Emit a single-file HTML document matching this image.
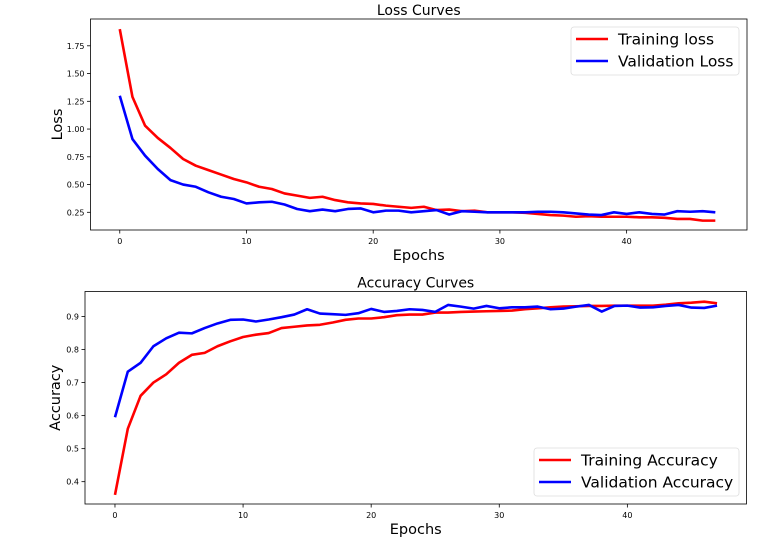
<!DOCTYPE html>
<html><head><meta charset="utf-8"><style>
html,body{margin:0;padding:0;background:#fff;}
svg{display:block;font-family:"DejaVu Sans","Liberation Sans",sans-serif;}
</style></head><body>
<svg id="chart" width="772" height="540" viewBox="0 0 772 540" xmlns="http://www.w3.org/2000/svg"></svg>
<script>
const epochs = Array.from({length:48},(_,i)=>i);
const trainLoss = [1.90,1.29,1.03,0.92,0.83,0.73,0.67,0.63,0.59,0.55,0.52,0.48,0.46,0.42,0.40,0.38,0.39,0.36,0.34,0.33,0.325,0.31,0.30,0.29,0.30,0.27,0.275,0.26,0.265,0.25,0.25,0.25,0.245,0.235,0.225,0.22,0.21,0.215,0.21,0.21,0.21,0.205,0.205,0.2,0.19,0.19,0.175,0.175];
const valLoss = [1.30,0.91,0.76,0.64,0.54,0.50,0.48,0.43,0.39,0.37,0.33,0.34,0.345,0.32,0.28,0.26,0.275,0.26,0.28,0.285,0.25,0.265,0.265,0.25,0.26,0.27,0.23,0.26,0.255,0.25,0.25,0.25,0.25,0.255,0.255,0.25,0.24,0.23,0.225,0.25,0.235,0.25,0.235,0.23,0.26,0.255,0.26,0.25];
const trainAcc = [0.36,0.56,0.66,0.70,0.725,0.76,0.784,0.79,0.81,0.825,0.838,0.845,0.85,0.865,0.869,0.873,0.875,0.882,0.89,0.894,0.894,0.898,0.904,0.906,0.906,0.912,0.912,0.914,0.915,0.916,0.917,0.918,0.922,0.925,0.928,0.93,0.931,0.932,0.932,0.933,0.933,0.933,0.933,0.936,0.94,0.942,0.945,0.94];
const valAcc = [0.595,0.733,0.76,0.81,0.834,0.851,0.849,0.865,0.879,0.89,0.891,0.885,0.891,0.898,0.906,0.922,0.909,0.907,0.905,0.91,0.923,0.914,0.917,0.922,0.92,0.914,0.935,0.93,0.924,0.932,0.925,0.928,0.928,0.93,0.922,0.924,0.93,0.935,0.915,0.932,0.933,0.927,0.928,0.932,0.935,0.927,0.926,0.933];
const xTicks = [0,10,20,30,40];
const lossTicks = [0.25,0.50,0.75,1.00,1.25,1.50,1.75];
const accTicks = [0.4,0.5,0.6,0.7,0.8,0.9];

const NS="http://www.w3.org/2000/svg";
const svg=document.getElementById('chart');
function mk(tag,attrs,parent){const e=document.createElementNS(NS,tag);for(const k in attrs)e.setAttribute(k,attrs[k]);(parent||svg).appendChild(e);return e;}

function panel(cfg){
  const g=mk('g',{});
  
  
  const {L,R,T,B,xmin,xmax,ymin,ymax}=cfg;
  const sx=v=>L+(v-xmin)/(xmax-xmin)*(R-L);
  const sy=v=>B-(v-ymin)/(ymax-ymin)*(B-T);
  // ticks
  xTicks.forEach(t=>{
    const x=sx(t);
    const l=mk('line',{x1:x,x2:x,y1:B,y2:B+3.5,stroke:'#000','stroke-width':0.8},g);
    
    
    const tx=mk('text',{x:x,y:B+14,'font-size':8,'text-anchor':'middle',fill:'#000'},g);
    
    
    tx.textContent=t;
  });
  cfg.yTicks.forEach(t=>{
    const y=sy(t);
    const l=mk('line',{x1:L-3.5,x2:L,y1:y,y2:y,stroke:'#000','stroke-width':0.8},g);
    
    
    const tx=mk('text',{x:L-6,y:y+3,'font-size':8,'text-anchor':'end',fill:'#000'},g);
    
    
    tx.textContent=t.toFixed(cfg.dec);
  });
  // series
  cfg.series.forEach(s=>{
    const d=s.data.map((v,i)=>(i?'L':'M')+sx(epochs[i]).toFixed(2)+','+sy(v).toFixed(2)).join(' ');
    const p=mk('path',{d:d,fill:'none',stroke:s.color,'stroke-width':2.6,'stroke-linejoin':'round'},g);
    
    
  });
  const fr=mk('rect',{x:L,y:T,width:R-L,height:B-T,fill:'none',stroke:'#000','stroke-width':0.8},g);
  
  
  const ti=mk('text',{x:(L+R)/2,y:T-4,'font-size':14,'text-anchor':'middle',fill:'#000'},g);
  
  
  ti.textContent=cfg.title;
  const xl=mk('text',{x:(L+R)/2,y:B+30,'font-size':14.5,'text-anchor':'middle',fill:'#000'},g);
  
  
  xl.textContent='Epochs';
  const yl=mk('text',{x:0,y:0,'font-size':14.5,'text-anchor':'middle',fill:'#000',transform:`translate(${cfg.ylx},${(T+B)/2}) rotate(-90)`},g);
  
  
  yl.textContent=cfg.ylabel;
  // legend
  const lg=mk('g',{},g);
  
  
  const [lx,ly,lw,lh]=cfg.legend;
  mk('rect',{x:lx,y:ly,width:lw,height:lh,rx:3,fill:'#fff',stroke:'#ddd','stroke-width':0.8},lg);
  cfg.series.forEach((s,i)=>{
    const yy=ly+12+i*22;
    const e=mk('g',{},lg);
    
    
    mk('line',{x1:lx+5,x2:lx+37,y1:yy,y2:yy,stroke:s.color,'stroke-width':2.6},e);
    const t=mk('text',{x:lx+47,y:yy+5.5,'font-size':15.5,fill:'#000'},e);
    t.textContent=s.label;
  });
}

panel({name:'loss-chart',L:90.5,R:747,T:19,B:230,xmin:-2.31,xmax:49.5,
  ymin:0.25-17.7/111,ymax:0.25+193.3/111,yTicks:lossTicks,dec:2,
  title:'Loss Curves',ylabel:'Loss',ylx:62,legend:[571,27,168,48],
  series:[{name:'training-loss-line',data:trainLoss,color:'#ff0000',label:'Training loss'},
          {name:'validation-loss-line',data:valLoss,color:'#0000ff',label:'Validation Loss'}]});

panel({name:'accuracy-chart',L:85,R:746.5,T:291.5,B:504,xmin:-2.34,xmax:49.3,
  ymin:0.9-187.3/330,ymax:0.9+25/330,yTicks:accTicks,dec:1,
  title:'Accuracy Curves',ylabel:'Accuracy',ylx:60,legend:[534,448,205,48],
  series:[{name:'training-accuracy-line',data:trainAcc,color:'#ff0000',label:'Training Accuracy'},
          {name:'validation-accuracy-line',data:valAcc,color:'#0000ff',label:'Validation Accuracy'}]});
</script>
</body></html>
